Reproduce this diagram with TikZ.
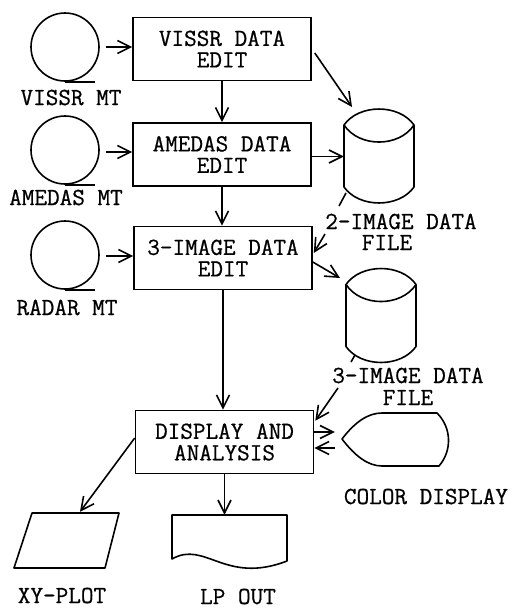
\documentclass[tikz,border=0pt]{standalone}
\usepackage{fontspec}
\newfontfamily\typewriter{Latin Modern Mono}[FakeBold=0.7]
\usetikzlibrary{arrows.meta,calc}

\tikzset{
  lbl/.style={font=\typewriter\fontsize{24.5}{21}\selectfont, inner sep=0pt, align=center,
              text height=14, text depth=0},
  box/.style={draw, line width=1.6pt, minimum width=178, minimum height=63,
              inner sep=0pt, align=center, font=\typewriter\fontsize{24.5}{21.5}\selectfont},
  tape/.style={draw, circle, line width=1.6pt, minimum size=68, inner sep=0pt},
  outline/.style={line width=1.6pt, line join=round},
  arr/.style={line width=1.6pt, -{Straight Barb[length=13pt,width=13pt,line width=1.6pt]}},
  plain/.style={line width=1.6pt}
}

\begin{document}
\begin{tikzpicture}[x=1pt,y=-1pt]
\useasboundingbox (0,0) rectangle (513,608);

% ---- processing boxes
\node[box] (vbox) at (222,49)    {VISSR DATA\\EDIT};
\node[box] (abox) at (222,154.5) {AMEDAS DATA\\EDIT};
\node[box] (ibox) at (223,258)   {3-IMAGE DATA\\EDIT};
\node[box] (dbox) at (224.5,442) {DISPLAY AND\\ANALYSIS};

% ---- magnetic tapes
\node[tape] (vt) at (65,47)  {};
\node[tape] (at) at (65,150) {};
\node[tape] (rt) at (65,255) {};
\foreach \t in {vt,at,rt}
  \draw[plain] (\t.south) -- ++(30,0);
\node[lbl] (vtl) at (71,98)  {VISSR MT};
\node[lbl] (atl) at (66,198) {AMEDAS MT};
\node[lbl] (rtl) at (67,308) {RADAR MT};

% ---- disk files (drum shape)
\foreach \name/\cx/\cy in {f2/379/156, f3/381/315.5}{
  \begin{scope}[shift={(\cx,\cy)}]
    \draw[outline] (-35,-31) .. controls (-20,-52.3) and (20,-52.3) .. (35,-31)
                   -- (35,31) .. controls (20,52.3) and (-20,52.3) .. (-35,31) -- cycle;
    \draw[outline] (-35,-31) .. controls (-20,-8.3) and (20,-8.3) .. (35,-31);
    \node[inner sep=0pt, minimum width=70, minimum height=94] (\name) at (0,0) {};
  \end{scope}
}
\node[lbl] (l2a) at (401,222) {2-IMAGE DATA};
\node[lbl] (l2b) at (387,243) {FILE};
\node[lbl] (l3a) at (408,376) {3-IMAGE DATA};
\node[lbl] (l3b) at (408,398) {FILE};
\draw[plain] ([shift={(-33,37)}]f2.center) -- ([shift={(-40,50)}]f2.center);
\draw[plain] ([shift={(-26,39.5)}]f3.center) -- ([shift={(-30,46.5)}]f3.center);

% ---- colour display
\draw[outline] (342,439) .. controls (355,422) and (368,413) .. (382,413) -- (437,413)
   .. controls (452,428) and (452,451) .. (439,466) -- (382,466)
   .. controls (368,466) and (355,456) .. cycle;
\node[inner sep=0pt, minimum width=107, minimum height=53] (cd) at (395,439.5) {};
\node[lbl] (cdl) at (426,497) {COLOR DISPLAY};

% ---- XY plotter
\draw[outline] (32,513) -- (119,513) -- (105,568) -- (14,568) -- cycle;
\node[inner sep=0pt, minimum width=105, minimum height=55] (xy) at (66.5,540.5) {};
\node[lbl] (xyl) at (62,596) {XY-PLOT};

% ---- line printer output (document shape)
\draw[outline] (172,559) -- (172,515) -- (287,515) -- (287,561)
   .. controls (225,585) and (205,540) .. cycle;
\node[inner sep=0pt, minimum width=115, minimum height=50] (lp) at (229.5,540) {};
\node[lbl] (lpl) at (238,597) {LP OUT};

% ---- flows
\draw[arr] ([shift={(6,0)}]vt.east) -- (vt.east -| vbox.west);
\draw[arr] ([xshift=6]at.east |- 0,152) -- (vbox.west |- 0,152);
\draw[arr] ([xshift=6]rt.east |- 0,256) -- (ibox.west |- 0,256);

\draw[arr] (vbox.south) -- (abox.north);
\draw[arr] (abox.south) -- (abox.south |- ibox.north);
\draw[arr] (ibox.south) -- (ibox.south |- dbox.north);

\draw[arr] ([shift={(3,4)}]vbox.east) -- ([shift={(-27,-49)}]f2.center);
\draw[arr] ([shift={(0,2)}]abox.east) -- ([shift={(0,2)}]abox.east -| f2.west);
\draw[arr] ([shift={(-76,12)}]l2a.center) -- ([shift={(1,-5)}]ibox.east);
\draw[arr] ([shift={(0,4)}]ibox.east) -- ([shift={(-41,-37.5)}]f3.center);
\draw[arr] ([shift={(-70,12)}]l3a.center) -- ([shift={(1,11)}]dbox.north east);

\draw[arr] ([shift={(0,-10)}]dbox.east) -- ([shift={(-6.5,-7.5)}]cd.west);
\draw[arr] ([shift={(-6.5,8.5)}]cd.west) -- ([shift={(0,6)}]dbox.east);

\draw[arr] ([shift={(0,-4)}]dbox.west) -- ([shift={(13.5,-1)}]xy.north);
\draw[arr] (dbox.south) -- (dbox.south |- lp.north);
\end{tikzpicture}
\end{document}
